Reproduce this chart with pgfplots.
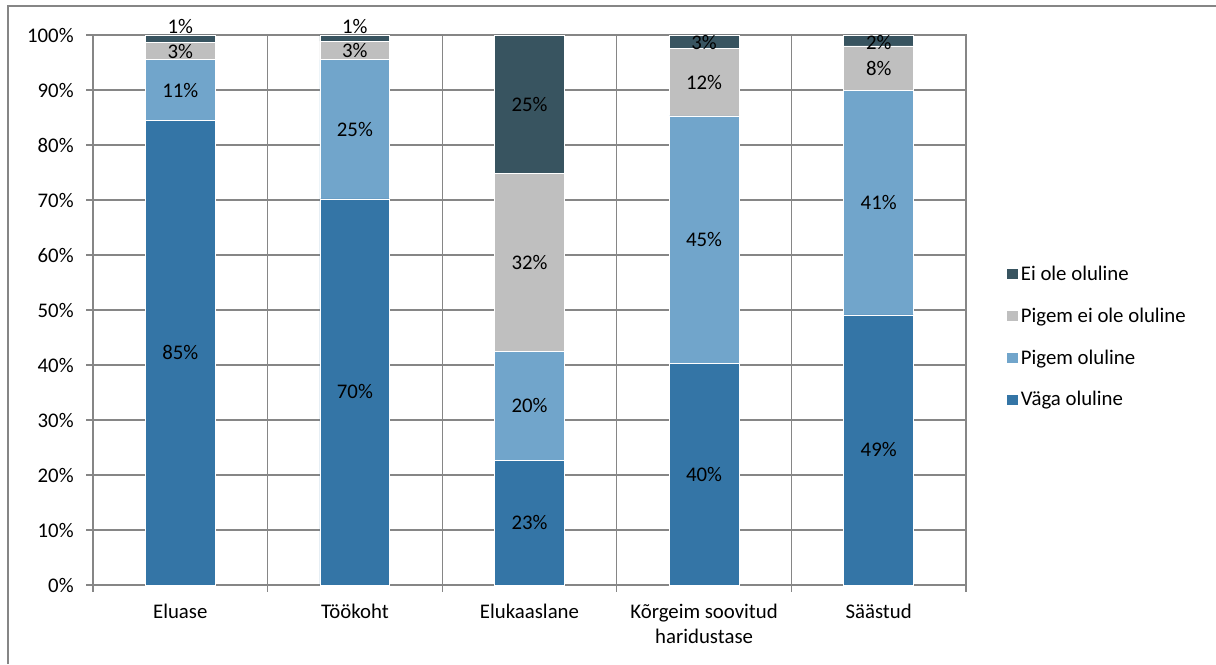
\documentclass[border=0pt]{standalone}
\usepackage{pgfplots}
\pgfplotsset{compat=1.18}
\usepackage{fontspec}
\setmainfont{Carlito}
\definecolor{vaga}{RGB}{52,117,166}
\definecolor{pigem}{RGB}{113,165,203}
\definecolor{pigemei}{RGB}{191,191,191}
\definecolor{eiole}{RGB}{56,84,96}
\definecolor{gridc}{RGB}{134,134,134}
\newcommand{\cfont}{\fontsize{15.6}{18.8}\selectfont}
\pgfplotsset{
  sqleg/.style={legend image code/.code={\fill[##1] (0pt,-4.1pt) rectangle (9pt,4.1pt);}},
  common/.style={
    scale only axis, width=654.75pt, height=412.5pt,
    xmin=-0.5, xmax=4.5, ymin=0, ymax=100,
    at={(69.75pt,59.25pt)}, anchor=south west,
  }
}
\begin{document}
\begin{tikzpicture}[x=0.75pt,y=0.75pt]
\path[use as bounding box] (0,0) rectangle (1216,664);
\draw[gridc, line width=1pt] (8,0) -- (8,658) -- (1216,658);
\begin{axis}[common,
  ybar stacked, bar width=0.4,
  axis line style={gridc, line width=0.9pt},
  grid style={gridc, line width=0.9pt},
  ymajorgrids, xmajorgrids,
  xtick={-0.5,0.5,1.5,2.5,3.5,4.5}, xticklabels={},
  extra x ticks={0,1,2,3,4},
  extra x tick labels={Eluase,Töökoht,Elukaaslane,{Kõrgeim soovitud\\haridustase},Säästud},
  extra x tick style={major tick length=0pt, grid=none, tick label style={align=center, yshift=-11pt}},
  ytick={0,10,20,30,40,50,60,70,80,90,100},
  yticklabels={0\%,10\%,20\%,30\%,40\%,50\%,60\%,70\%,80\%,90\%,100\%},
  tick align=outside, major tick length=5pt,
  tick style={gridc, line width=0.9pt},
  yticklabel style={xshift=-6pt},
  axis x line*=box, axis y line*=box,
  xtick pos=bottom, ytick pos=left,
  tick label style={font=\cfont, text=black},
  /pgf/number format/assume math mode=true,
  legend style={at={(1.045,0.451)}, anchor=west, draw=none, fill=none,
    row sep=15pt, font=\cfont, inner sep=0pt},
  legend cell align=left,
  reverse legend,
]
\addplot[fill=vaga, draw=white, line width=0.5pt, sqleg] coordinates {(0,84.5) (1,70.2) (2,22.7) (3,40.3) (4,49.1)};
\addplot[fill=pigem, draw=white, line width=0.5pt, sqleg] coordinates {(0,11.0) (1,25.3) (2,19.8) (3,45.0) (4,40.8)};
\addplot[fill=pigemei, draw=white, line width=0.5pt, sqleg] coordinates {(0,3.1) (1,3.4) (2,32.3) (3,12.2) (4,8.1)};
\addplot[fill=eiole, draw=white, line width=0.5pt, sqleg] coordinates {(0,1.4) (1,1.1) (2,25.2) (3,2.5) (4,2.0)};
\legend{Väga oluline, Pigem oluline, Pigem ei ole oluline, Ei ole oluline}
\end{axis}
\begin{axis}[common, hide axis, clip=false,
  nodes near coords,
  point meta=explicit symbolic,
  every node near coord/.style={anchor=center, font=\cfont, text=black, inner sep=0pt},
]
\addplot[draw=none, mark=none] coordinates {
  (0,42.3) [85\%] (0,90.0) [11\%] (0,97.0) [3\%] (0,101.6) [1\%]
  (1,35.1) [70\%] (1,82.85) [25\%] (1,97.2) [3\%] (1,101.6) [1\%]
  (2,11.35) [23\%] (2,32.6) [20\%] (2,58.65) [32\%] (2,87.4) [25\%]
  (3,20.15) [40\%] (3,62.8) [45\%] (3,91.4) [12\%] (3,98.6) [3\%]
  (4,24.55) [49\%] (4,69.5) [41\%] (4,93.95) [8\%] (4,98.7) [2\%]
};
\end{axis}
\end{tikzpicture}
\end{document}
